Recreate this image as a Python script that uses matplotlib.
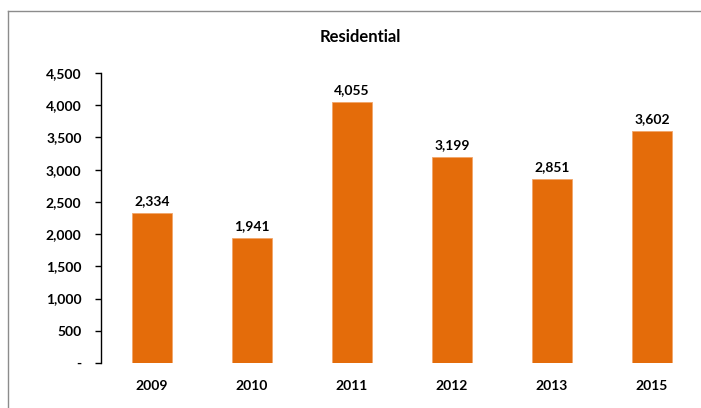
import matplotlib
matplotlib.use("Agg")
import matplotlib.pyplot as plt
from matplotlib.lines import Line2D
from matplotlib.ticker import FuncFormatter

years = ["2009", "2010", "2011", "2012", "2013", "2015"]
values = [2334, 1941, 4055, 3199, 2851, 3602]
yticks = [0, 500, 1000, 1500, 2000, 2500, 3000, 3500, 4000, 4500]

plt.rcParams['font.family'] = ['Lato', 'DejaVu Sans']
plt.rcParams['font.weight'] = 'bold'

fig = plt.figure(figsize=(7.01, 4.08), dpi=100)
ax = fig.add_axes([101/701, 45/408, 600/701, 290/408])

x = list(range(len(years)))
bars = ax.bar(x, values, width=0.4, color='#E46C0A', edgecolor='#F2A66A', linewidth=0.6)

for xi, v in zip(x, values):
    ax.text(xi, v + 90, f"{v:,}", ha='center', va='bottom', fontsize=10, fontweight='bold')

ax.set_xlim(-0.51, 5.49)
ax.set_ylim(0, 4500)
ax.set_yticks(yticks)
ax.yaxis.set_major_formatter(FuncFormatter(lambda v, p: "-" if v == 0 else f"{int(v):,}"))
ax.set_xticks(x)
ax.set_xticklabels(years)

for s in ['top', 'right', 'bottom']:
    ax.spines[s].set_visible(False)
ax.spines['left'].set_color('black')
ax.spines['left'].set_linewidth(1)

ax.tick_params(axis='y', length=4, width=1, pad=10, labelsize=10)
ax.tick_params(axis='x', length=0, pad=12, labelsize=10)
for lbl in ax.get_xticklabels() + ax.get_yticklabels():
    lbl.set_fontweight('bold')

fig.text(360/701, 1 - 37/408, "Residential", ha='center', va='center', fontsize=12, fontweight='bold')

# chart border (top and left visible)
fig.add_artist(Line2D([8/701, 1], [1 - 11/408, 1 - 11/408], transform=fig.transFigure, color='#8c8c8c', linewidth=1))
fig.add_artist(Line2D([8/701, 8/701], [0, 1 - 11/408], transform=fig.transFigure, color='#8c8c8c', linewidth=1))

fig.savefig("out.png", dpi=100)
